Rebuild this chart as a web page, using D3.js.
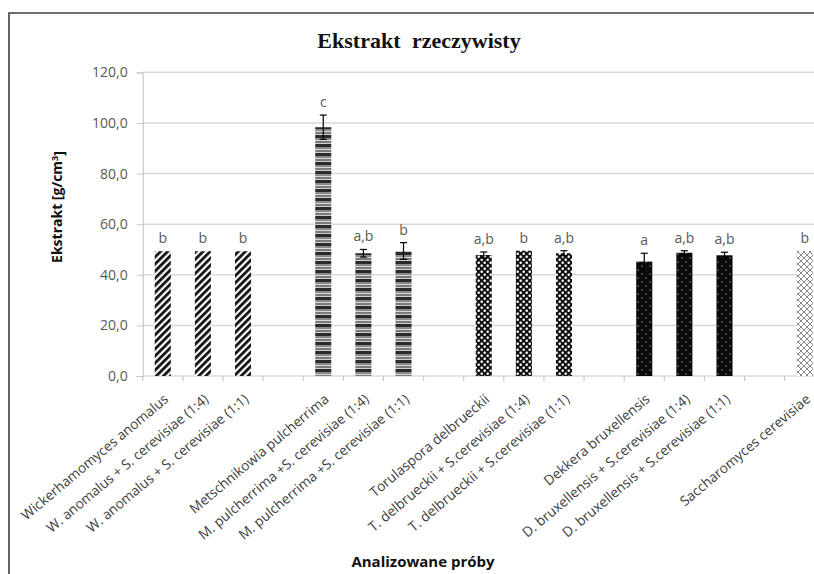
<!DOCTYPE html>
<html>
<head>
<meta charset="utf-8">
<script src="https://cdn.jsdelivr.net/npm/d3@7"></script>
<style>
  html, body { margin: 0; padding: 0; background: #fff; overflow: hidden; }
  svg { display: block; }
</style>
</head>
<body>
<svg id="chart" width="814" height="574"></svg>
<script>
// Ekstrakt rzeczywisty
var categories = [
    'Wickerhamomyces anomalus',
    'W. anomalus + S. cerevisiae (1:4)',
    'W. anomalus + S. cerevisiae (1:1)',
    'Metschnikowia pulcherrima',
    'M. pulcherrima +S. cerevisiae (1:4)',
    'M. pulcherrima +S. cerevisiae (1:1)',
    'Torulaspora delbrueckii',
    'T. delbrueckii + S.cerevisiae (1:4)',
    'T. delbrueckii + S.cerevisiae (1:1)',
    'Dekkera bruxellensis',
    'D. bruxellensis + S.cerevisiae (1:4)',
    'D. bruxellensis + S.cerevisiae (1:1)',
    'Saccharomyces cerevisiae'
];
var values = [49.3, 49.3, 49.3, 98.3, 48.5, 49.4, 47.8, 49.5, 48.5, 45.2, 48.7, 47.7, 49.4];
var errors = [0, 0, 0, 4.8, 1.5, 3.3, 1.2, 0, 1.0, 3.3, 0.8, 1.2, 0];
var letters = ['b', 'b', 'b', 'c', 'a,b', 'b', 'a,b', 'b', 'a,b', 'a', 'a,b', 'a,b', 'b'];
var groups = ['W', 'W', 'W', 'M', 'M', 'M', 'T', 'T', 'T', 'D', 'D', 'D', 'S'];
var yTicks = [0, 20, 40, 60, 80, 100, 120];

// empty slot after each group, like the source sheet
var slots = [];
categories.forEach(function (c, i) {
    slots.push(c);
    if (i < categories.length - 1 && groups[i + 1] !== groups[i]) {
        slots.push('gap' + i);
    }
});

var svg = d3.select('#chart');
var axisLeft = 142.7, axisRight = 824.8, yTop = 72.3, yBottom = 376;
var fmt = function (v) { return d3.format('.1f')(v).replace('.', ','); };
var labelFont = '"Open Sans", "DejaVu Sans", sans-serif';

// patterns
var defs = svg.append('defs');
var pW = defs.append('pattern').attr('id', 'pat-W').attr('patternUnits', 'userSpaceOnUse')
    .attr('width', 5).attr('height', 5).attr('patternTransform', 'rotate(45)');
pW.append('rect').attr('width', 5).attr('height', 5).attr('fill', '#fff');
pW.append('rect').attr('width', 2.8).attr('height', 5).attr('fill', '#111');

var pM = defs.append('pattern').attr('id', 'pat-M').attr('patternUnits', 'userSpaceOnUse')
    .attr('width', 4).attr('height', 9);
[['#2a2a2a', 0, 3], ['#8a8a8a', 3, 2], ['#d8d8d8', 5, 1], ['#7a7a7a', 6, 2], ['#cfcfcf', 8, 1]].forEach(function (b) {
    pM.append('rect').attr('x', 0).attr('y', b[1]).attr('width', 4).attr('height', b[2]).attr('fill', b[0]);
});

var pT = defs.append('pattern').attr('id', 'pat-T').attr('patternUnits', 'userSpaceOnUse')
    .attr('width', 6).attr('height', 6);
pT.append('rect').attr('width', 6).attr('height', 6).attr('fill', '#111');
pT.append('rect').attr('x', 0.5).attr('y', 0.5).attr('width', 2.4).attr('height', 2.4).attr('rx', 0.8).attr('fill', '#fff');
pT.append('rect').attr('x', 3.5).attr('y', 3.5).attr('width', 2.4).attr('height', 2.4).attr('rx', 0.8).attr('fill', '#fff');

var pD = defs.append('pattern').attr('id', 'pat-D').attr('patternUnits', 'userSpaceOnUse')
    .attr('width', 8).attr('height', 8);
pD.append('rect').attr('width', 8).attr('height', 8).attr('fill', '#0a0a0a');
pD.append('circle').attr('cx', 2).attr('cy', 2).attr('r', 0.8).attr('fill', '#888');
pD.append('circle').attr('cx', 6).attr('cy', 6).attr('r', 0.8).attr('fill', '#888');

var pS = defs.append('pattern').attr('id', 'pat-S').attr('patternUnits', 'userSpaceOnUse')
    .attr('width', 6).attr('height', 6);
pS.append('rect').attr('width', 6).attr('height', 6).attr('fill', '#fff');
pS.append('path').attr('d', 'M0,0L6,6M6,0L0,6').attr('stroke', '#8a8a8a').attr('stroke-width', 1);

// chart frame (right and bottom edges fall outside the crop)
svg.append('path').attr('d', 'M9,640V13H900')
    .attr('fill', 'none').attr('stroke', '#404040').attr('stroke-width', 1.6);

var x = d3.scaleBand().domain(slots).range([axisLeft, axisRight])
    .paddingInner(0.6).paddingOuter(0.3);
var y = d3.scaleLinear().domain([0, 120]).range([yBottom, yTop]);

// gridlines
svg.append('g').selectAll('line').data(yTicks.filter(function (d) { return d > 0; })).enter()
    .append('line')
    .attr('x1', axisLeft).attr('x2', axisRight)
    .attr('y1', function (d) { return y(d); }).attr('y2', function (d) { return y(d); })
    .attr('stroke', '#d9d9d9').attr('stroke-width', 1.5);

// y axis
var yAxis = svg.append('g').attr('transform', 'translate(' + axisLeft + ',0)')
    .call(d3.axisLeft(y).tickValues(yTicks).tickFormat(fmt).tickSize(6).tickPadding(9));
yAxis.select('.domain').attr('stroke', '#c8c8c8').attr('stroke-width', 1.2);
yAxis.selectAll('.tick line').attr('stroke', '#c8c8c8');
yAxis.selectAll('.tick text').attr('fill', '#595959').style('font-family', labelFont).style('font-size', '14px');

// x axis line and boundary ticks
svg.append('line').attr('x1', axisLeft).attr('x2', axisRight).attr('y1', yBottom).attr('y2', yBottom)
    .attr('stroke', '#c8c8c8').attr('stroke-width', 1.2);
var bounds = slots.map(function (s) { return x(s) - x.step() * 0.3; });
bounds.push(axisRight);
svg.append('g').selectAll('line').data(bounds).enter().append('line')
    .attr('x1', function (d) { return d; }).attr('x2', function (d) { return d; })
    .attr('y1', yBottom).attr('y2', yBottom + 5)
    .attr('stroke', '#c8c8c8').attr('stroke-width', 1.2);

// bars
var rows = categories.map(function (c, i) {
    return { name: c, value: values[i], err: errors[i], letter: letters[i], group: groups[i] };
});
var bw = x.bandwidth();
svg.append('g').selectAll('rect').data(rows).enter().append('rect')
    .attr('x', function (d) { return x(d.name); })
    .attr('width', bw)
    .attr('y', function (d) { return y(d.value); })
    .attr('height', function (d) { return y(0) - y(d.value); })
    .attr('fill', function (d) { return 'url(#pat-' + d.group + ')'; });

// error bars
var eb = svg.append('g').selectAll('g').data(rows.filter(function (d) { return d.err > 0; })).enter().append('g')
    .attr('stroke', '#000').attr('stroke-width', 1.2);
eb.append('line')
    .attr('x1', function (d) { return x(d.name) + bw / 2; }).attr('x2', function (d) { return x(d.name) + bw / 2; })
    .attr('y1', function (d) { return y(d.value - d.err); }).attr('y2', function (d) { return y(d.value + d.err); });
['+', '-'].forEach(function (s) {
    eb.append('line')
        .attr('x1', function (d) { return x(d.name) + bw / 2 - 3.5; }).attr('x2', function (d) { return x(d.name) + bw / 2 + 3.5; })
        .attr('y1', function (d) { return y(s === '+' ? d.value + d.err : d.value - d.err); })
        .attr('y2', function (d) { return y(s === '+' ? d.value + d.err : d.value - d.err); });
});

// significance letters
svg.append('g').selectAll('text').data(rows).enter().append('text')
    .attr('x', function (d) { return x(d.name) + bw / 2; })
    .attr('y', function (d) { return y(d.value + d.err) - 8; })
    .attr('text-anchor', 'middle')
    .attr('fill', '#595959')
    .style('font-family', labelFont).style('font-size', '14px')
    .text(function (d) { return d.letter; });

// rotated category labels
svg.append('g').selectAll('text').data(categories).enter().append('text')
    .attr('transform', function (d) {
        return 'translate(' + (x(d) + bw / 2 + 3.5) + ',' + (yBottom + 21) + ') rotate(-40)';
    })
    .attr('text-anchor', 'end')
    .attr('dy', '0.35em')
    .attr('fill', '#404040')
    .style('font-family', labelFont).style('font-size', '13.7px')
    .text(function (d) { return d; });

// titles
svg.append('text').attr('x', 419).attr('y', 48).attr('text-anchor', 'middle')
    .style('font-family', '"Liberation Serif", "Times New Roman", serif')
    .style('font-size', '22px').style('font-weight', 'bold').style('word-spacing', '6px').attr('fill', '#111')
    .text('Ekstrakt rzeczywisty');

svg.append('text').attr('x', 423).attr('y', 567).attr('text-anchor', 'middle')
    .style('font-family', labelFont).style('font-size', '15px').style('font-weight', 'bold').attr('fill', '#111')
    .text('Analizowane próby');

var yl = svg.append('text').attr('transform', 'translate(62,207) rotate(-90)').attr('text-anchor', 'middle')
    .style('font-family', labelFont).style('font-size', '14px').style('font-weight', 'bold').attr('fill', '#111');
yl.append('tspan').text('Ekstrakt [g/cm');
yl.append('tspan').attr('dy', '-0.4em').style('font-size', '9px').text('3');
yl.append('tspan').attr('dy', '0.4em').text(']');
</script>
</body>
</html>
